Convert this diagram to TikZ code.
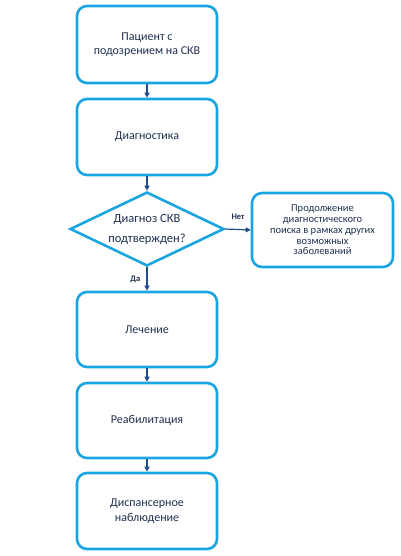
\documentclass[tikz,border=0pt]{standalone}
\usepackage{fontspec}
\setmainfont{Carlito}
\usetikzlibrary{arrows.meta,shapes.geometric}
\definecolor{bord}{HTML}{1BA5E0}
\definecolor{arr}{HTML}{1F4E8C}
\definecolor{txt}{HTML}{1E2F4F}
\tikzset{
  box/.style={draw=bord,line width=2.6pt,rounded corners=10pt,minimum width=140pt,inner sep=0pt,align=center,text=txt,font=\fontsize{12}{14.5}\selectfont},
  conn/.style={draw=arr,line width=1.2pt,-{Triangle[width=5pt,length=5pt]}},
  lab/.style={text=txt,font=\fontsize{8.5}{9}\bfseries\selectfont,inner sep=0pt}
}
\begin{document}
\begin{tikzpicture}[x=1pt,y=-1pt]
\useasboundingbox (0,0) rectangle (400,556);
\node[box,minimum height=77pt] (p) at (147,44.5) {Пациент с\\подозрением на СКВ};
\node[box,minimum height=76pt] (d) at (147,137) {Диагностика};
\node[diamond,draw=bord,line width=2.6pt,minimum width=154pt,minimum height=74pt,inner sep=0pt] (q) at (147,229) {};
\node[text=txt,align=center,font=\fontsize{12.5}{20}\selectfont] (qt) at (147,229) {Диагноз СКВ\\подтвержден?};
\node[box,minimum width=141pt,minimum height=74pt,font=\fontsize{10.5}{10.8}\selectfont] (r) at (322.5,230) {Продолжение\\диагностического\\поиска в рамках других\\возможных\\заболеваний};
\node[box,minimum height=75pt] (l) at (147,329.5) {Лечение};
\node[box,minimum height=75pt] (b) at (147,420.5) {Реабилитация};
\node[box,minimum height=76pt] (n) at (147,511) {Диспансерное\\наблюдение};
\draw[conn] (p) -- (d);
\draw[conn] (d) -- (q.north);
\draw[conn] (q.east) -- node[lab,above=9pt] (net) {Нет} (r.west);
\draw[conn] (q.south) -- node[lab,left=6pt] (da) {Да} (l);
\draw[conn] (l) -- (b);
\draw[conn] (b) -- (n);
\end{tikzpicture}
\end{document}
